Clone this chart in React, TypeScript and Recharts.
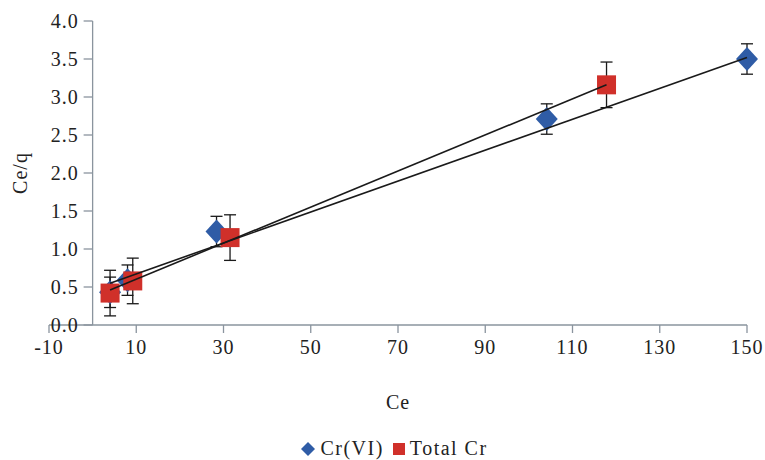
import React from 'react';
import { ScatterChart, Scatter, XAxis, YAxis, ErrorBar, ReferenceLine, Legend } from 'recharts';

// ---- data ----
const crVIX = [4, 8, 28.4, 104.1, 150];
const crVIY = [0.43, 0.59, 1.23, 2.71, 3.5];
const crVIErr = [0.2, 0.2, 0.2, 0.2, 0.2];

const totalCrX = [4, 9.2, 31.5, 117.8];
const totalCrY = [0.42, 0.58, 1.15, 3.16];
const totalCrErr = [0.3, 0.3, 0.3, 0.3];

const trendVIX = [4, 150];
const trendVIY = [0.55, 3.52];
const trendTotalX = [4, 117.8];
const trendTotalY = [0.46, 3.16];

const xTicks = [-10, 10, 30, 50, 70, 90, 110, 130, 150];
const yTicks = [0, 0.5, 1, 1.5, 2, 2.5, 3, 3.5, 4];

const X_MIN = -10;
const X_MAX = 150;

// ---- styles ----
const W = 765;
const H = 460;
const MARGIN = { top: 21, right: 18, left: 0, bottom: 45 };
const Y_AXIS_W = 49;
const X_AXIS_H = 90;
const FONT = "'Liberation Serif', 'Times New Roman', Times, serif";
const AXIS_COLOR = '#8a949e';
const TEXT_COLOR = '#222';
const BLUE = '#2f5ca6';
const RED = '#d0302a';
const TXT_STYLE: React.CSSProperties = { fontFamily: FONT, fontSize: 20, letterSpacing: 1 };

const crVI = crVIX.map((x, i) => ({ x, y: crVIY[i], err: crVIErr[i] }));
const totalCr = totalCrX.map((x, i) => ({ x, y: totalCrY[i], err: totalCrErr[i] }));
const trendVI = trendVIX.map((x, i) => ({ x, y: trendVIY[i] }));
const trendTotal = trendTotalX.map((x, i) => ({ x, y: trendTotalY[i] }));

const plotLeft = MARGIN.left + Y_AXIS_W;
const plotWidth = W - plotLeft - MARGIN.right;
const zeroX = plotLeft + ((0 - X_MIN) / (X_MAX - X_MIN)) * plotWidth;

const Diamond = (props: any) => {
  const { cx, cy } = props;
  if (cx == null || cy == null) return <g />;
  const hw = 11;
  const hh = 12;
  return (
    <polygon
      points={`${cx},${cy - hh} ${cx + hw},${cy} ${cx},${cy + hh} ${cx - hw},${cy}`}
      fill={BLUE}
    />
  );
};

const Square = (props: any) => {
  const { cx, cy } = props;
  if (cx == null || cy == null) return <g />;
  const s = 19;
  return <rect x={cx - s / 2} y={cy - s / 2} width={s} height={s} fill={RED} />;
};

const NoShape = () => <g />;

const XTick = (props: any) => {
  const { x, y, payload } = props;
  return (
    <text x={x} y={y} dy="0.75em" textAnchor="middle" style={TXT_STYLE} fill={TEXT_COLOR}>
      {payload.value}
    </text>
  );
};

const YTick = (props: any) => {
  const { y, payload } = props;
  return (
    <g>
      <line x1={zeroX - 9} y1={y} x2={zeroX} y2={y} stroke={AXIS_COLOR} strokeWidth={1.3} />
      <text x={zeroX - 14} y={y} dy="0.35em" textAnchor="end" style={TXT_STYLE} fill={TEXT_COLOR}>
        {payload.value.toFixed(1)}
      </text>
    </g>
  );
};

const LegendContent = () => (
  <div
    style={{
      display: 'flex',
      justifyContent: 'center',
      alignItems: 'center',
      fontFamily: FONT,
      fontSize: 20,
      color: TEXT_COLOR,
      gap: 5,
      letterSpacing: 1.5,
      paddingLeft: 24,
    }}
  >
    <svg width={14} height={14}>
      <polygon points="7,0 14,7 7,14 0,7" fill={BLUE} />
    </svg>
    <span style={{ marginRight: 4 }}>Cr(VI)</span>
    <svg width={12} height={12}>
      <rect x={0} y={0} width={12} height={12} fill={RED} />
    </svg>
    <span>Total Cr</span>
  </div>
);

export default function App() {
  return (
    <div style={{ position: 'absolute', left: 0, top: 0, width: W, height: H, background: '#fff' }}>
      <ScatterChart width={W} height={H} margin={MARGIN}>
        <XAxis
          type="number"
          dataKey="x"
          domain={[X_MIN, X_MAX]}
          ticks={xTicks}
          height={X_AXIS_H}
          stroke={AXIS_COLOR}
          strokeWidth={1.3}
          tickSize={8}
          tickMargin={6}
          tick={<XTick />}
          label={{
            content: (p: any) => {
              const vb = p.viewBox;
              return (
                <text
                  x={vb.x + vb.width / 2}
                  y={vb.y + 84}
                  textAnchor="middle"
                  style={TXT_STYLE}
                  fill={TEXT_COLOR}
                >
                  Ce
                </text>
              );
            },
          }}
        />
        <YAxis
          type="number"
          dataKey="y"
          domain={[0, 4]}
          ticks={yTicks}
          width={Y_AXIS_W}
          axisLine={false}
          tickLine={false}
          tick={<YTick />}
          label={{
            content: (p: any) => {
              const vb = p.viewBox;
              const cx = 20;
              const cy = vb.y + vb.height / 2;
              return (
                <text
                  x={cx}
                  y={cy}
                  transform={`rotate(-90 ${cx} ${cy})`}
                  textAnchor="middle"
                  dy="0.35em"
                  style={TXT_STYLE}
                  fill={TEXT_COLOR}
                >
                  Ce/q
                </text>
              );
            },
          }}
        />
        <ReferenceLine x={0} stroke={AXIS_COLOR} strokeWidth={1.3} />
        <Scatter name="Cr(VI)" data={crVI} shape={<Diamond />} isAnimationActive={false}>
          <ErrorBar dataKey="err" direction="y" width={6} stroke="#1a1a1a" strokeWidth={1.3} />
        </Scatter>
        <Scatter name="Total Cr" data={totalCr} shape={<Square />} isAnimationActive={false}>
          <ErrorBar dataKey="err" direction="y" width={6} stroke="#1a1a1a" strokeWidth={1.3} />
        </Scatter>
        <Scatter
          name="trendVI"
          data={trendVI}
          line={{ stroke: '#1a1a1a', strokeWidth: 1.6 }}
          shape={<NoShape />}
          legendType="none"
          isAnimationActive={false}
        />
        <Scatter
          name="trendTotal"
          data={trendTotal}
          line={{ stroke: '#1a1a1a', strokeWidth: 1.6 }}
          shape={<NoShape />}
          legendType="none"
          isAnimationActive={false}
        />
        <Legend
          layout="horizontal"
          verticalAlign="middle"
          align="center"
          content={<LegendContent />}
          wrapperStyle={{ top: 437, left: 0, width: W }}
        />
      </ScatterChart>
    </div>
  );
}
